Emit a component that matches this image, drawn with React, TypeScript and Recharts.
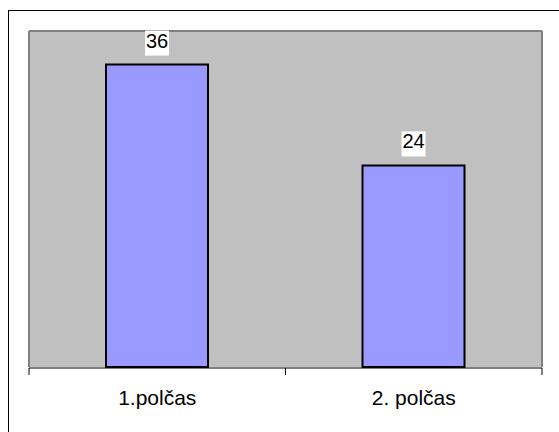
import { BarChart, Bar, XAxis, YAxis, CartesianGrid, LabelList } from 'recharts'

const categories = ['1.polčas', '2. polčas']
const goals = [36, 24]
const yDomain = [0, 40]
const edgeTicks = [0, 1, 2]

const data = categories.map((name, i) => ({ name, value: goals[i], pos: i + 0.5 }))

const FONT = '"Liberation Sans", Arial, sans-serif'

// white box with the value, above each bar
const ValueLabel = (props: any) => {
  const { x, y, width, value } = props
  const cx = x + width / 2
  const base = y - 17
  const w = String(value).length * 11.5 + 1
  return (
    <g>
      <rect x={cx - w / 2} y={base - 17} width={w} height={25} fill="#fff" />
      <text x={cx} y={base} textAnchor="middle" fontSize={20} fontFamily={FONT} fill="#000">
        {value}
      </text>
    </g>
  )
}

const NoTick = () => <g />

export default function App() {
  return (
    <div style={{ position: 'absolute', left: 0, top: 0, width: 559, height: 432, overflow: 'hidden', background: '#fff' }}>
      <div
        style={{
          position: 'absolute',
          left: 8,
          top: 10,
          width: 600,
          height: 500,
          border: '1.5px solid #000',
        }}
      />
      <div style={{ position: 'absolute', left: 0, top: 0 }}>
        <BarChart
          width={559}
          height={432}
          data={data}
          margin={{ top: 30, right: 16, left: 28, bottom: 24 }}
          barCategoryGap={0}
        >
          <CartesianGrid fill="#C0C0C0" horizontal={false} vertical={false} />
          <XAxis
            dataKey="name"
            height={1}
            axisLine={false}
            tickLine={false}
            tickMargin={17}
            tick={{ fontSize: 21, fontFamily: FONT, fill: '#000' }}
          />
          <XAxis
            xAxisId="edge"
            type="number"
            dataKey="pos"
            domain={[0, 2]}
            ticks={edgeTicks}
            tick={NoTick}
            tickSize={7}
            height={40}
            axisLine={{ stroke: '#000', strokeWidth: 1 }}
            tickLine={{ stroke: '#000', strokeWidth: 1 }}
          />
          <XAxis
            xAxisId="top"
            orientation="top"
            dataKey="name"
            height={1}
            tick={false}
            tickLine={false}
            axisLine={{ stroke: '#808080', strokeWidth: 2 }}
          />
          <YAxis
            domain={yDomain}
            width={1}
            tick={false}
            tickLine={false}
            axisLine={{ stroke: '#808080', strokeWidth: 2 }}
          />
          <YAxis
            yAxisId="r"
            orientation="right"
            domain={yDomain}
            width={1}
            tick={false}
            tickLine={false}
            axisLine={{ stroke: '#808080', strokeWidth: 2 }}
          />
          <Bar
            dataKey="value"
            fill="#9999FF"
            stroke="#000"
            strokeWidth={2}
            barSize={102}
            isAnimationActive={false}
          >
            <LabelList dataKey="value" content={ValueLabel} />
          </Bar>
        </BarChart>
      </div>
    </div>
  )
}
